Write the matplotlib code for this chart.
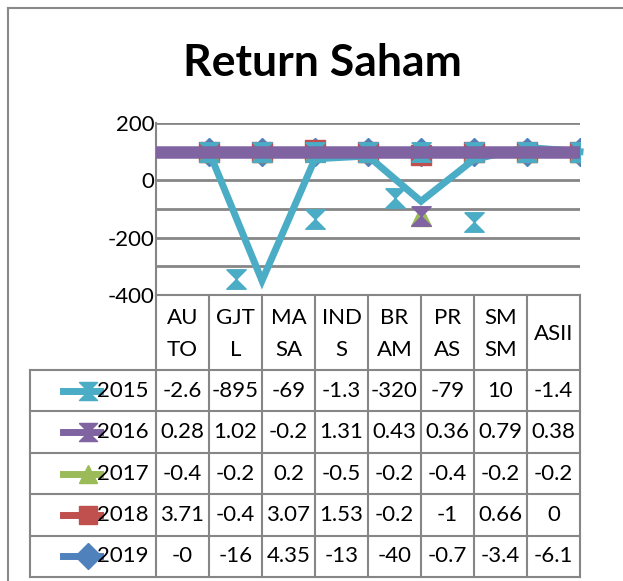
import numpy as np
import matplotlib.pyplot as plt
from matplotlib.lines import Line2D
from matplotlib.path import Path

plt.rcParams['font.family'] = ['Lato', 'DejaVu Sans']

W, H = 623, 581

categories = ['AUTO', 'GJTL', 'MASA', 'INDS', 'BRAM', 'PRAS', 'SMSM', 'ASII']
header_labels = [['AU', 'TO'], ['GJT', 'L'], ['MA', 'SA'], ['IND', 'S'],
                 ['BR', 'AM'], ['PR', 'AS'], ['SM', 'SM'], ['ASII']]
years = ['2015', '2016', '2017', '2018', '2019']

# numbers printed in the data table
table_2015 = ['-2.6', '-895', '-69', '-1.3', '-320', '-79', '10', '-1.4']
table_2016 = ['0.28', '1.02', '-0.2', '1.31', '0.43', '0.36', '0.79', '0.38']
table_2017 = ['-0.4', '-0.2', '0.2', '-0.5', '-0.2', '-0.4', '-0.2', '-0.2']
table_2018 = ['3.71', '-0.4', '3.07', '1.53', '-0.2', '-1', '0.66', '0']
table_2019 = ['-0', '-16', '4.35', '-13', '-40', '-0.7', '-3.4', '-6.1']

# values as they are drawn in the plot area
line_2015 = [100, -350, 75, 85, -73, 73, 115, 100]
pts_2015 = [100, 100, 100, 100, 100, 100, 100, 100]
stray_pos_2015 = [1.5, 3.0, 4.5, 6.0]
stray_2015 = [-345, -136, -63, -146]
level_2016 = 100
pts_2016 = [100, 100, 100, 100, -125, 100, 100, 100]
pts_2017 = [100, 100, 100, 100, -125, 100, 100, 100]
pts_2018 = [100, 100, 105, 100, 90, 100, 100, 100]
pts_2019 = [100, 100, 100, 100, 100, 100, 100, 100]

c2015, c2016, c2017, c2018, c2019 = '#4BACC6', '#8064A2', '#9BBB59', '#C0504D', '#4F81BD'
grid_c = '#868686'

hourglass = Path([(-1, 1), (1, 1), (-1, -1), (1, -1), (-1, 1)])


def fx(x):
    return x / W


def fy(y):
    return 1 - y / H


fig = plt.figure(figsize=(W / 100, H / 100), dpi=100)

# outer chart frame
fig.add_artist(Line2D([fx(8), fx(8)], [fy(8), fy(H + 5)], color='#898989', lw=1.5))
fig.add_artist(Line2D([fx(8), fx(W + 5)], [fy(8), fy(8)], color='#898989', lw=1.5))

fig.text(fx(322), fy(63), 'Return Saham', fontsize=32, fontweight='bold',
         ha='center', va='center')

# plot area
x0, x1, ytop, ybot = 156, 580, 123, 295
ax = fig.add_axes([fx(x0), fy(ybot), fx(x1 - x0), (ybot - ytop) / H])
ax.set_xlim(0, 8)
ax.set_ylim(-400, 200)
ax.set_facecolor('none')
for s in ['top', 'right', 'bottom']:
    ax.spines[s].set_visible(False)
ax.spines['left'].set_color(grid_c)
ax.spines['left'].set_linewidth(1.5)
ax.set_xticks([])
ax.set_yticks(np.arange(-400, 201, 100))
ax.set_yticklabels(['-400', '', '-200', '', '0', '', '200'], fontsize=16)
ax.tick_params(axis='y', length=0, pad=1)
ax.grid(axis='y', color=grid_c, lw=2)
ax.set_axisbelow(True)

pos = np.arange(1, 9)
ms = 14
ax.plot(pos, pts_2019, ls='none', marker='D', ms=ms, color=c2019, zorder=3)
ax.plot(pos, pts_2018, ls='none', marker='s', ms=ms, color=c2018, zorder=3)
ax.plot(pos, pts_2017, ls='none', marker='^', ms=ms, color=c2017, zorder=3)
ax.plot(pos, pts_2016, ls='none', marker=hourglass, ms=ms, color=c2016, zorder=3)
ax.plot(pos, pts_2015, ls='none', marker=hourglass, ms=ms, color=c2015, zorder=3)
ax.plot(stray_pos_2015, stray_2015, ls='none', marker=hourglass, ms=ms, color=c2015, zorder=3)
ax.plot(pos, line_2015, color=c2015, lw=5, solid_joinstyle='miter', zorder=4, clip_on=False)
ax.axhline(level_2016, color=c2016, lw=9, zorder=5)

# data table
cw = 53
head_bot = 370
rh = 41.4
tab_bot = head_bot + rh * len(years)
lc = dict(color=grid_c, lw=1.5)
for i in range(len(categories) + 1):
    xx = x0 + cw * i
    fig.add_artist(Line2D([fx(xx), fx(xx)], [fy(ybot), fy(tab_bot)], **lc))
fig.add_artist(Line2D([fx(x0), fx(x1)], [fy(ybot), fy(ybot)], **lc))
for k in range(len(years) + 1):
    yy = head_bot + rh * k
    fig.add_artist(Line2D([fx(30), fx(x1)], [fy(yy), fy(yy)], **lc))
fig.add_artist(Line2D([fx(30), fx(30)], [fy(head_bot), fy(tab_bot)], **lc))

for i, lab in enumerate(header_labels):
    xc = x0 + cw * (i + 0.5)
    if len(lab) == 2:
        fig.text(fx(xc), fy(318), lab[0], fontsize=16, ha='center', va='center')
        fig.text(fx(xc), fy(350), lab[1], fontsize=16, ha='center', va='center')
    else:
        fig.text(fx(xc), fy(334), lab[0], fontsize=16, ha='center', va='center')

rows = [table_2015, table_2016, table_2017, table_2018, table_2019]
colors = [c2015, c2016, c2017, c2018, c2019]
markers = [hourglass, hourglass, '^', 's', 'D']
for k, (yr, vals) in enumerate(zip(years, rows)):
    yc = head_bot + rh * (k + 0.5)
    fig.add_artist(Line2D([fx(63), fx(100)], [fy(yc), fy(yc)], color=colors[k], lw=5))
    fig.add_artist(Line2D([fx(88)], [fy(yc)], marker=markers[k], ms=13,
                          color=colors[k], ls='none'))
    fig.text(fx(149), fy(yc), yr, fontsize=16, ha='right', va='center')
    for i, v in enumerate(vals):
        xc = x0 + cw * (i + 0.5)
        fig.text(fx(xc), fy(yc), v, fontsize=16, ha='center', va='center')

fig.savefig('out.png', dpi=100)
